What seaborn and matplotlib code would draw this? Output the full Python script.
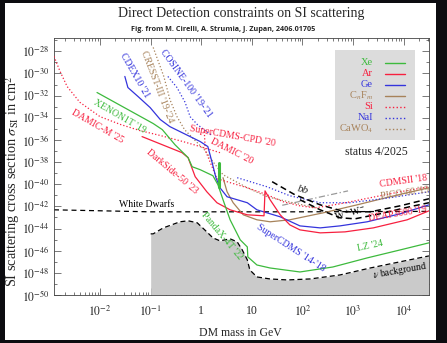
import numpy as np
import matplotlib
matplotlib.use('Agg')
import matplotlib.pyplot as plt
from matplotlib.patches import Rectangle
from matplotlib.ticker import FixedLocator, NullFormatter, LogLocator
import seaborn as sns

# all curves as log10(mass / GeV), log10(sigma / cm^2)
xe_m = [-2.06, -0.95, -0.77, -0.52, -0.26, -0.18, -0.02, 0.23, 0.33, 0.43, 0.57, 0.77, 0.91, 0.92, 1.10, 1.36, 1.95, 2.60, 3.28, 3.93, 4.50]
xe_s = [-31.72, -34.52, -35.07, -36.43, -37.6, -38.42, -38.69, -39.23, -40.05, -41.4, -43.21, -45.02, -45.66, -46.56, -47.29, -47.56, -47.92, -47.47, -46.65, -45.93, -45.29]
xe_migdal_m = [0.35, 0.35]
xe_migdal_s = [-38.05, -40.23]

ge_m = [-1.51, -1.45, -1.25, -1.01, -0.81, -0.62, -0.42, -0.02, 0.13, 0.21, 0.29, 0.37, 0.51, 0.91, 1.10, 1.56, 1.95, 2.35, 2.74, 3.28, 3.93, 4.50]
ge_s = [-30.27, -31.27, -32.08, -33.08, -34.16, -34.8, -35.25, -36.15, -36.6, -37.96, -39.41, -40.32, -41.13, -41.67, -42.31, -42.94, -43.76, -43.94, -43.76, -43.39, -42.67, -41.86]

nai_lo_m = [-0.66, -0.48, -0.32, -0.22, -0.08, 0.08, 0.21]
nai_lo_s = [-30.27, -31.27, -32.6, -33.9, -34.6, -35.16, -35.6]
nai_hi_m = [0.71, 1.30, 1.75, 2.35, 2.94, 3.73, 4.50]
nai_hi_s = [-39.41, -40.23, -41.04, -41.67, -41.67, -41.22, -40.68]

cawo4_m = [-0.95, -0.74, -0.62, -0.48, -0.33, -0.14, 0.06, 0.23, 0.43, 0.91, 1.30, 1.81, 2.35]
cawo4_s = [-27.65, -30.27, -32.35, -33.9, -35.07, -35.97, -36.88, -37.96, -39.14, -40.32, -41.13, -41.67, -42.22]

cf_m = [0.43, 0.51, 0.63, 0.83, 1.10, 1.36, 1.75, 2.41, 3.08, 3.73, 4.50]
cf_s = [-39.41, -40.68, -41.67, -42.76, -43.21, -43.39, -43.21, -42.58, -41.86, -41.13, -40.32]

ar_m = [-1.17, -0.38, -0.26, -0.12, 0.11, 0.31, 0.57, 0.91, 1.24, 1.26, 1.36, 1.56, 1.75, 1.95, 2.35, 2.84, 3.40, 4.07, 4.50]
ar_s = [-35.7, -37.15, -37.6, -39.32, -40.68, -41.67, -42.31, -42.76, -42.85, -40.6, -41.4, -42.76, -43.67, -44.12, -44.39, -44.3, -43.94, -43.21, -42.4]

si_damicm_m = [-2.91, -2.79, -2.65, -2.40, -2.0, -1.6, -1.21, -0.81, -0.36, -0.02, 0.37]
si_damicm_s = [-28.46, -29.82, -31.18, -32.6, -33.9, -34.6, -35.16, -35.6, -36.15, -36.6, -37.15]
si_cpd_m = [0.06, 0.08, 0.31, 0.91, 1.30, 1.62, 1.95, 2.25, 2.74, 3.34, 3.93, 4.50]
si_cpd_s = [-35.25, -36.94, -39.5, -40.32, -40.95, -41.58, -41.95, -42.13, -41.77, -41.22, -40.68, -40.23]

wd_m = [-2.91, -1.01, 1.95, 4.50]
wd_s = [-42.31, -42.49, -42.49, -42.45]

bb_m = [1.40, 1.85, 2.35, 2.84, 3.34, 3.93, 4.50]
bb_s = [-39.77, -40.95, -41.86, -42.49, -42.49, -41.95, -41.31]
ww_m = [1.95, 2.35, 2.74, 3.04, 3.53, 4.11, 4.50]
ww_s = [-41.4, -42.31, -43.03, -43.12, -42.67, -42.04, -41.67]
grey_m = [1.60, 2.10, 2.60, 2.90]
grey_s = [-41.9, -41.4, -40.9, -40.6]

nu_m = [-1.0, -0.95, -0.75, -0.42, -0.26, -0.08, 0.11, 0.23, 0.37, 0.57, 0.71, 0.81, 0.91, 0.96, 1.10, 1.36, 1.70, 2.15, 2.74, 3.34, 3.93, 4.50]
nu_s = [-44.48, -44.48, -43.94, -43.39, -43.3, -43.48, -44.3, -44.84, -45.11, -44.93, -45.2, -45.93, -46.83, -47.74, -48.37, -48.55, -48.64, -48.55, -48.19, -47.56, -47.0, -46.47]

# experiment labels: text, log10 m, log10 sigma, rotation, colour key
label_text = ["CDEX10 '21", "CRESST-III '19-'24", "COSINE-100 '19-'21", "XENON1T '19", "DAMIC-M '25",
              "DarkSide-50 '23", "SuperCDMS-CPD '20", "DAMIC '20", "PandaX-4T '22", "SuperCDMS '14-'18",
              "LZ '24", r"$\nu$ background", "DEAP3600 '19", "CDMSII '18", "PICO-60 '19", r"W$^+$W$^-$",
              "White Dwarfs"]
label_m = [-1.31, -0.87, -0.30, -1.62, -2.06, -0.58, 0.61, 0.61, 0.41, 1.77, 3.34, 3.93, 3.89, 3.99, 4.03, 2.94, -1.07]
label_s = [-30.18, -31.18, -30.9, -33.85, -34.8, -38.87, -35.7, -37.06, -44.66, -45.75, -45.57, -47.83, -42.67, -39.68, -40.77, -42.58, -41.86]
label_rot = [-60, -69, -54, -30, -30, -40, -10, -27, -50, -33, 12, 10, 9, 8, 8, 15, 0]
label_col = ['Ge', 'CaWO4', 'NaI', 'Xe', 'Si', 'Ar', 'Si', 'Si', 'Xe', 'Ge', 'Xe', 'k', 'Ar', 'Si', 'CnFm', 'k', 'k']

legend_keys = ['Xe', 'Ar', 'Ge', 'CnFm', 'Si', 'NaI', 'CaWO4']
legend_labels = ['Xe', 'Ar', 'Ge', r'C$_n$F$_m$', 'Si', 'NaI', r'CaWO$_4$']
legend_styles = ['-', '-', '-', '-', ':', ':', ':']

green = '#3dba3d'
red = '#f7203f'
blue = '#3434dc'
brown = '#a7825a'
colors = {'Xe': green, 'Ar': red, 'Ge': blue, 'CnFm': brown, 'Si': red, 'NaI': blue, 'CaWO4': brown, 'k': 'black'}

sns.set_style('ticks')
plt.rcParams['font.family'] = 'serif'
plt.rcParams['font.serif'] = ['Liberation Serif', 'DejaVu Serif']
plt.rcParams['mathtext.fontset'] = 'stix'

fig = plt.figure(figsize=(4.47, 3.43), dpi=100, facecolor='#0c0c10')
fig.patches.append(Rectangle((0.011, 0.009), 0.965, 0.982, transform=fig.transFigure,
                             facecolor='white', edgecolor='none', zorder=-1))
ax = fig.add_axes([0.1208, 0.1399, 0.8389, 0.7493])
ax.set_xscale('log')
ax.set_yscale('log')


def curve(m, s, color, ls='-', lw=0.9, zorder=3):
    sns.lineplot(x=10 ** np.array(m), y=10 ** np.array(s), ax=ax, color=color, linestyle=ls,
                 linewidth=lw, sort=False, estimator=None, zorder=zorder)


# neutrino background
nu_x = 10 ** np.array(nu_m)
ax.fill_between(nu_x, 1e-50, 10 ** np.array(nu_s), color='#cacaca', lw=0, zorder=1)
curve(nu_m, nu_s, 'black', (0, (4, 2.5)), 0.9, 2)

curve(wd_m, wd_s, 'black', (0, (4, 3)), 0.9, 2)
curve(grey_m, grey_s, '#9a9a9a', (0, (5, 2, 1, 2)), 0.9, 2)
curve(bb_m, bb_s, 'black', (0, (4, 2.5)), 1.1, 4)
curve(ww_m, ww_s, 'black', (0, (4, 2.5)), 1.1, 4)

curve(cawo4_m, cawo4_s, brown, ':')
curve(cf_m, cf_s, brown, '-')
curve(nai_lo_m, nai_lo_s, blue, ':')
curve(nai_hi_m, nai_hi_s, blue, ':')
curve(si_damicm_m, si_damicm_s, red, ':')
curve(si_cpd_m, si_cpd_s, red, ':')
curve(ge_m, ge_s, blue, '-')
curve(ar_m, ar_s, red, '-')
curve(xe_m, xe_s, green, '-')
curve(xe_migdal_m, xe_migdal_s, green, '-', 2.2)

for t, m, s, r, c in zip(label_text, label_m, label_s, label_rot, label_col):
    ax.text(10 ** m, 10 ** s, t, rotation=r, rotation_mode='anchor', ha='center', va='center',
            color=colors[c], fontsize=7, zorder=6)
ax.text(10 ** 2.01, 10 ** -40.5, 'bb', style='italic', rotation=-15, ha='center', va='center',
        fontsize=8, zorder=6)

# legend box
ax.add_patch(Rectangle((0.749, 0.603), 0.214, 0.350, transform=ax.transAxes, facecolor='#dcdcdc',
                       edgecolor='none', zorder=7))
for i, (k, lab, ls) in enumerate(zip(legend_keys, legend_labels, legend_styles)):
    yy = 0.903 - i * 0.0428
    ax.text(0.851, yy, lab, transform=ax.transAxes, ha='right', va='center', color=colors[k],
            fontsize=7.5, zorder=8)
    ax.plot([0.883, 0.936], [yy, yy], transform=ax.transAxes, color=colors[k], ls=ls, lw=1, zorder=8)
ax.text(0.861, 0.556, 'status 4/2025', transform=ax.transAxes, ha='center', va='center', fontsize=8.5)

ax.set_xlim(10 ** -2.91, 10 ** 4.5)
ax.set_ylim(1e-50, 10 ** -26.8)

xt = [1e-2, 1e-1, 1, 10, 1e2, 1e3, 1e4]
xt_labels = [r'$10^{-2}$', r'$10^{-1}$', '1', '10', r'$10^{2}$', r'$10^{3}$', r'$10^{4}$']
ax.xaxis.set_major_locator(FixedLocator(xt))
ax.set_xticklabels(xt_labels)
ax.xaxis.set_minor_locator(LogLocator(base=10, subs=np.arange(2, 10), numticks=20))
ax.xaxis.set_minor_formatter(NullFormatter())
yt_exp = list(range(-50, -27, 2))
ax.yaxis.set_major_locator(FixedLocator([10.0 ** e for e in yt_exp]))
ax.set_yticklabels([r'$10^{%d}$' % e for e in yt_exp])
ax.yaxis.set_minor_locator(FixedLocator([10.0 ** e for e in range(-49, -26, 2)]))
ax.yaxis.set_minor_formatter(NullFormatter())
ax.tick_params(which='both', direction='in', top=True, right=True, width=0.5, color='#444444',
               labelsize=8.5)
ax.tick_params(which='major', length=5)
ax.tick_params(which='minor', length=2.5)
ax.tick_params(axis='x', pad=7)
ax.tick_params(axis='y', pad=3)
for sp in ax.spines.values():
    sp.set_linewidth(0.6)
    sp.set_color('#444444')

fig.text(0.537, 0.029, 'DM mass in GeV', ha='center', va='center', fontsize=8.5)
fig.text(0.029, 0.472, r'SI scattering cross section $\sigma_{\rm SI}$ in cm$^2$', rotation=90,
         ha='center', va='center', fontsize=10.3)
fig.text(0.539, 0.962, 'Direct Detection constraints on SI scattering', ha='center', va='center',
         fontsize=10)
fig.text(0.50, 0.913, 'Fig. from M. Cirelli, A. Strumia, J. Zupan, 2406.01705', ha='center',
         va='center', fontsize=5.2, fontweight='bold', family=['Open Sans', 'DejaVu Sans'])

fig.savefig('out.png', dpi=100, facecolor=fig.get_facecolor())
